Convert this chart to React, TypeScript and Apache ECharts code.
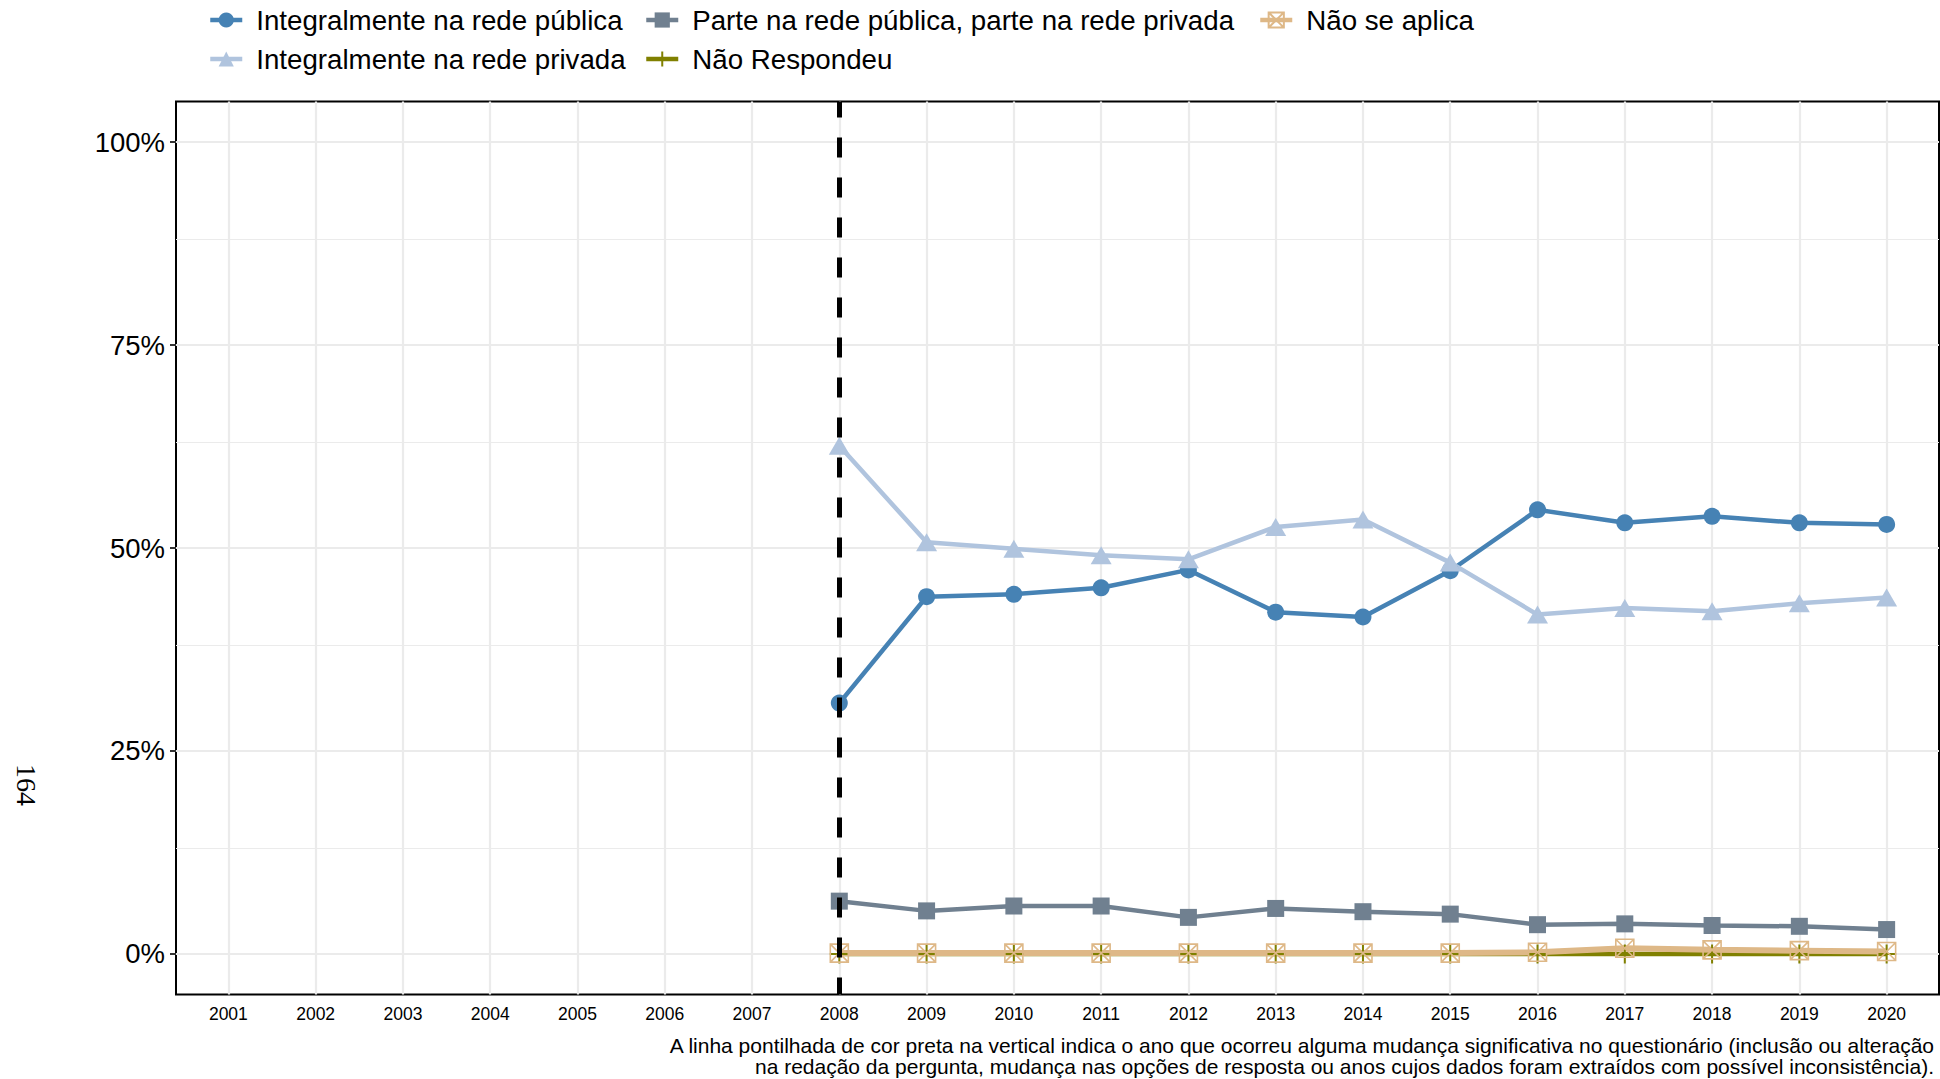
import React, { useEffect, useRef } from "react";
import * as echarts from "echarts";

const tickYears = [2001, 2002, 2003, 2004, 2005, 2006, 2007, 2008, 2009, 2010, 2011, 2012, 2013, 2014, 2015, 2016, 2017, 2018, 2019, 2020];
const dataYears = [2008, 2009, 2010, 2011, 2012, 2013, 2014, 2015, 2016, 2017, 2018, 2019, 2020];
const yTicks = [0, 0.25, 0.5, 0.75, 1];
const yMinor = [0.125, 0.375, 0.625, 0.875];

const publica = [0.309, 0.440, 0.443, 0.451, 0.473, 0.421, 0.415, 0.472, 0.547, 0.531, 0.539, 0.531, 0.529];
const privada = [0.626, 0.507, 0.499, 0.491, 0.486, 0.526, 0.535, 0.482, 0.418, 0.426, 0.422, 0.432, 0.439];
const parte = [0.065, 0.053, 0.059, 0.059, 0.045, 0.056, 0.052, 0.049, 0.036, 0.037, 0.035, 0.034, 0.030];
const naoRespondeu = [0, 0, 0, 0, 0, 0, 0, 0, 0, 0, 0, 0, 0];
const naoSeAplica = [0.001, 0.001, 0.001, 0.001, 0.001, 0.001, 0.001, 0.001, 0.002, 0.007, 0.005, 0.004, 0.003];

const names = [
  "Integralmente na rede pública",
  "Integralmente na rede privada",
  "Parte na rede pública, parte na rede privada",
  "Não Respondeu",
  "Não se aplica",
];

const caption =
  "A linha pontilhada de cor preta na vertical indica o ano que ocorreu alguma mudança significativa no questionário (inclusão ou alteração\nna redação da pergunta, mudança nas opções de resposta ou anos cujos dados foram extraídos com possível inconsistência).";

const FONT = "Liberation Sans";

export default function App() {
  const ref = useRef<HTMLDivElement>(null);
  useEffect(() => {
    if (!ref.current) return;
    const chart = echarts.init(ref.current, null, { renderer: "svg" });
    const pair = (arr: number[]) => dataYears.map((y, i) => [y, arr[i]]);
    const legendText = { fontSize: 27.7, color: "#000", fontFamily: FONT, lineHeight: 30, padding: [0, 0, 0, 9] };
    const legendCommon = {
      orient: "vertical",
      top: 0,
      itemWidth: 32,
      itemHeight: 19,
      itemGap: 9,
      textStyle: legendText,
      lineStyle: { width: 4.5 },
      selectedMode: false,
    };
    const option: any = {
      animation: false,
      backgroundColor: "#fff",
      grid: {
        left: 176,
        right: 1,
        top: 101.5,
        bottom: 84.5,
        show: true,
        borderColor: "#000",
        borderWidth: 2,
        backgroundColor: "transparent",
      },
      legend: [
        { ...legendCommon, left: 203, data: [names[0], names[1]] },
        { ...legendCommon, left: 639, data: [names[2], names[3]] },
        { ...legendCommon, left: 1253, data: [names[4]] },
      ],
      xAxis: {
        type: "value",
        min: 2000.4,
        max: 2020.6,
        axisLine: { show: false },
        splitLine: { show: false },
        axisTick: { show: true, customValues: tickYears, length: 6, lineStyle: { color: "#333", width: 2 } },
        axisLabel: {
          customValues: tickYears,
          formatter: (v: number) => String(v),
          fontSize: 17.5,
          color: "#000",
          fontFamily: FONT,
          margin: 10,
        },
      },
      yAxis: {
        type: "value",
        min: -0.05,
        max: 1.05,
        axisLine: { show: false },
        splitLine: { show: false },
        axisTick: { show: true, customValues: yTicks, length: 6, lineStyle: { color: "#333", width: 2 } },
        axisLabel: {
          customValues: yTicks,
          formatter: (v: number) => Math.round(v * 100) + "%",
          fontSize: 27.5,
          color: "#000",
          fontFamily: FONT,
          margin: 11,
        },
      },
      graphic: [
        {
          type: "text",
          x: 1934,
          y: 1035,
          style: {
            text: caption,
            align: "right",
            verticalAlign: "top",
            fontSize: 21,
            lineHeight: 21,
            fontFamily: FONT,
            fill: "#000",
          },
        },
        {
          type: "text",
          x: 26,
          y: 785,
          rotation: -Math.PI / 2,
          style: {
            text: "164",
            align: "center",
            verticalAlign: "middle",
            fontSize: 28,
            fontFamily: "Liberation Serif",
            fill: "#000",
          },
        },
      ],
      series: [
        {
          name: "__grid",
          type: "line",
          data: [],
          silent: true,
          markLine: {
            silent: true,
            z: 1,
            symbol: "none",
            label: { show: false },
            emphasis: { disabled: true },
            data: [
              ...yTicks.map((v) => ({ yAxis: v, lineStyle: { color: "#EBEBEB", width: 2.2, type: "solid" } })),
              ...yMinor.map((v) => ({ yAxis: v, lineStyle: { color: "#EBEBEB", width: 1.1, type: "solid" } })),
              ...tickYears.map((v) => ({ xAxis: v, lineStyle: { color: "#EBEBEB", width: 2.2, type: "solid" } })),
            ],
          },
        },
        {
          name: names[0],
          type: "line",
          data: pair(publica),
          color: "#4682B4",
          lineStyle: { color: "#4682B4", width: 4.5 },
          itemStyle: { color: "#4682B4" },
          symbol: "circle",
          symbolSize: 17,
          showAllSymbol: true,
        },
        {
          name: names[1],
          type: "line",
          data: pair(privada),
          color: "#B0C4DE",
          lineStyle: { color: "#B0C4DE", width: 4.5 },
          itemStyle: { color: "#B0C4DE" },
          symbol: "triangle",
          symbolSize: [21, 18],
          showAllSymbol: true,
        },
        {
          name: names[2],
          type: "line",
          data: pair(parte),
          color: "#708090",
          lineStyle: { color: "#708090", width: 4.5 },
          itemStyle: { color: "#708090" },
          symbol: "rect",
          symbolSize: 17,
          showAllSymbol: true,
        },
        {
          name: names[3],
          type: "line",
          data: pair(naoRespondeu),
          color: "#808000",
          lineStyle: { color: "#808000", width: 4.5 },
          itemStyle: { color: "rgba(0,0,0,0)", borderColor: "#808000", borderWidth: 2 },
          symbol: "path://M5 0V10M0 5H10",
          symbolSize: 19,
          showAllSymbol: true,
        },
        {
          name: names[4],
          type: "line",
          data: pair(naoSeAplica),
          color: "#DEB887",
          lineStyle: { color: "#DEB887", width: 6 },
          itemStyle: { color: "rgba(0,0,0,0)", borderColor: "#DEB887", borderWidth: 1.6 },
          symbol: "path://M0 0H10V10H0Z M0 0L10 10M10 0L0 10",
          symbolSize: 18,
          showAllSymbol: true,
          markLine: {
            silent: true,
            z: 10,
            symbol: "none",
            label: { show: false },
            emphasis: { disabled: true },
            data: [{ xAxis: 2008, lineStyle: { color: "#000", width: 5, type: [20, 20], dashOffset: 3 } }],
          },
        },
      ],
    };
    chart.setOption(option);
    return () => chart.dispose();
  }, []);
  return <div ref={ref} style={{ position: "fixed", left: 0, top: 0, width: 1940, height: 1079 }} />;
}
